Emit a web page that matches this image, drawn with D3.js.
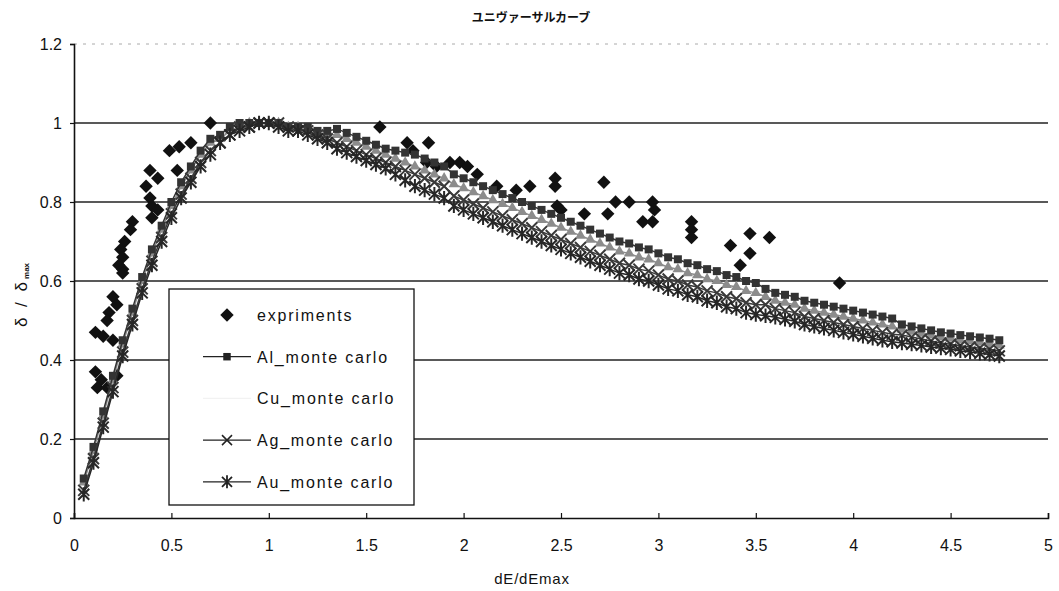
<!DOCTYPE html>
<html>
<head>
<meta charset="utf-8">
<script src="https://cdn.jsdelivr.net/npm/d3@7"></script>
<style>
  body { margin: 0; background: #fff; }
  text { font-family: "Liberation Sans", Arial, sans-serif; fill: #111; }
</style>
</head>
<body>
<div id="chart-area"></div>
<script>
// tick labels
const xTicks = [0, 0.5, 1, 1.5, 2, 2.5, 3, 3.5, 4, 4.5, 5];
const xTickLabels = ["0", "0.5", "1", "1.5", "2", "2.5", "3", "3.5", "4", "4.5", "5"];
const yTicks = [0, 0.2, 0.4, 0.6, 0.8, 1, 1.2];
const yTickLabels = ["0", "0.2", "0.4", "0.6", "0.8", "1", "1.2"];

const expX = [0.70, 0.60, 0.54, 0.49, 0.53, 0.39, 0.43, 0.37, 0.39, 0.40, 0.40, 0.43, 0.30, 0.29, 0.26, 0.24, 0.25, 0.23, 0.25, 0.25,
  0.20, 0.22, 0.18, 0.17, 0.11, 0.15, 0.20, 0.11, 0.14, 0.12, 0.17, 0.22,
  1.57, 1.71, 1.82, 1.74, 1.81, 1.86, 1.93, 1.98, 2.02, 2.07, 2.17, 2.27, 2.34, 2.47, 2.47, 2.48, 2.50,
  2.72, 2.78, 2.74, 2.62, 2.85, 2.97, 2.98, 2.92, 2.97, 3.17, 3.17, 3.17, 3.37, 3.47, 3.57, 3.47, 3.42, 3.93];
const expY = [1.00, 0.95, 0.94, 0.93, 0.88, 0.88, 0.86, 0.84, 0.81, 0.79, 0.76, 0.78, 0.75, 0.73, 0.70, 0.68, 0.66, 0.64, 0.63, 0.62,
  0.56, 0.54, 0.52, 0.50, 0.47, 0.46, 0.45, 0.37, 0.35, 0.33, 0.33, 0.36,
  0.99, 0.95, 0.95, 0.93, 0.90, 0.89, 0.90, 0.90, 0.89, 0.87, 0.84, 0.83, 0.84, 0.86, 0.84, 0.79, 0.78,
  0.85, 0.80, 0.77, 0.77, 0.80, 0.80, 0.78, 0.75, 0.75, 0.75, 0.73, 0.71, 0.69, 0.72, 0.71, 0.67, 0.64, 0.595];

// monte carlo runs, dE/dEmax
const mcX = [0.05, 0.10, 0.15, 0.20, 0.25, 0.30, 0.35, 0.40, 0.45, 0.50, 0.55, 0.60, 0.65, 0.70,
  0.75, 0.80, 0.85, 0.90, 0.95, 1.00, 1.05, 1.10, 1.15, 1.20, 1.25, 1.30,
  1.35, 1.40, 1.45, 1.50, 1.55, 1.60,
  1.65, 1.70, 1.75, 1.80, 1.85, 1.90, 1.95, 2.00, 2.05, 2.10, 2.15, 2.20, 2.25, 2.30, 2.35, 2.40, 2.45, 2.50, 2.55, 2.60,
  2.65, 2.70, 2.75, 2.80, 2.85, 2.90, 2.95, 3.00, 3.05, 3.10, 3.15, 3.20, 3.25, 3.30, 3.35, 3.40, 3.45, 3.50,
  3.55, 3.60, 3.65, 3.70, 3.75, 3.80, 3.85, 3.90, 3.95, 4.00, 4.05, 4.10, 4.15, 4.20,
  4.25, 4.30, 4.35, 4.40, 4.45, 4.50, 4.55, 4.60, 4.65, 4.70, 4.75];
const alY = [0.10, 0.18, 0.27, 0.36, 0.45, 0.53, 0.61, 0.68, 0.74, 0.80, 0.85, 0.89, 0.93, 0.96,
  0.97, 0.99, 1.00, 1.00, 1.00, 1.00, 1.00, 0.99, 0.99, 0.99, 0.98, 0.98,
  0.985, 0.975, 0.965, 0.955, 0.945, 0.935,
  0.93, 0.925, 0.92, 0.91, 0.90, 0.89, 0.87, 0.86, 0.85, 0.84, 0.83, 0.82, 0.81, 0.80, 0.79, 0.78, 0.77, 0.76, 0.75, 0.74,
  0.73, 0.72, 0.71, 0.70, 0.695, 0.685, 0.68, 0.67, 0.66, 0.655, 0.645, 0.64, 0.63, 0.625, 0.615, 0.61, 0.60, 0.595,
  0.58, 0.57, 0.565, 0.56, 0.55, 0.545, 0.54, 0.535, 0.53, 0.525, 0.52, 0.515, 0.51, 0.505,
  0.49, 0.485, 0.48, 0.475, 0.47, 0.467, 0.463, 0.46, 0.457, 0.454, 0.45];
const cuY = [0.09, 0.17, 0.26, 0.35, 0.44, 0.52, 0.60, 0.67, 0.73, 0.79, 0.84, 0.88, 0.92, 0.95,
  0.96, 0.98, 0.99, 1.00, 1.00, 1.00, 1.00, 0.99, 0.99, 0.98, 0.97, 0.97,
  0.97, 0.96, 0.95, 0.94, 0.93, 0.92,
  0.91, 0.90, 0.89, 0.88, 0.87, 0.86, 0.845, 0.835, 0.825, 0.815, 0.805, 0.795, 0.785, 0.775, 0.765, 0.755, 0.745, 0.735, 0.725, 0.715,
  0.705, 0.695, 0.685, 0.675, 0.67, 0.66, 0.655, 0.645, 0.635, 0.63, 0.62, 0.615, 0.605, 0.60, 0.59, 0.585, 0.575, 0.57,
  0.56, 0.55, 0.545, 0.54, 0.53, 0.525, 0.52, 0.515, 0.51, 0.505, 0.50, 0.495, 0.49, 0.485,
  0.477, 0.472, 0.467, 0.462, 0.457, 0.454, 0.45, 0.447, 0.444, 0.441, 0.437];
const agY = [0.07, 0.15, 0.24, 0.33, 0.42, 0.50, 0.58, 0.65, 0.71, 0.77, 0.82, 0.86, 0.90, 0.93,
  0.95, 0.97, 0.99, 0.99, 1.00, 1.00, 1.00, 0.99, 0.98, 0.98, 0.97, 0.96,
  0.95, 0.94, 0.93, 0.92, 0.91, 0.90,
  0.89, 0.88, 0.87, 0.86, 0.85, 0.84, 0.815, 0.805, 0.795, 0.785, 0.775, 0.765, 0.755, 0.745, 0.735, 0.725, 0.715, 0.705, 0.695, 0.685,
  0.675, 0.665, 0.655, 0.645, 0.64, 0.63, 0.625, 0.615, 0.605, 0.60, 0.59, 0.585, 0.575, 0.57, 0.56, 0.555, 0.545, 0.54,
  0.54, 0.53, 0.525, 0.52, 0.51, 0.505, 0.50, 0.495, 0.49, 0.485, 0.48, 0.475, 0.47, 0.465,
  0.463, 0.458, 0.453, 0.448, 0.443, 0.44, 0.436, 0.433, 0.43, 0.427, 0.423];
const auY = [0.06, 0.14, 0.23, 0.32, 0.41, 0.49, 0.57, 0.64, 0.70, 0.76, 0.81, 0.85, 0.89, 0.92,
  0.95, 0.97, 0.98, 0.99, 1.00, 1.00, 0.99, 0.98, 0.98, 0.97, 0.96, 0.95,
  0.935, 0.925, 0.915, 0.905, 0.895, 0.885,
  0.87, 0.855, 0.84, 0.83, 0.82, 0.81, 0.79, 0.78, 0.77, 0.76, 0.75, 0.74, 0.73, 0.72, 0.71, 0.70, 0.69, 0.68, 0.67, 0.66,
  0.65, 0.64, 0.63, 0.62, 0.615, 0.605, 0.60, 0.59, 0.58, 0.575, 0.565, 0.56, 0.55, 0.545, 0.535, 0.53, 0.52, 0.515,
  0.512, 0.508, 0.503, 0.498, 0.49, 0.485, 0.48, 0.475, 0.47, 0.465, 0.46, 0.455, 0.45, 0.446,
  0.443, 0.44, 0.437, 0.433, 0.43, 0.427, 0.423, 0.42, 0.417, 0.414, 0.41];

const width = 1059, height = 591;

const svg = d3.select("#chart-area").append("svg")
  .attr("width", width)
  .attr("height", height)
  .style("background", "#fff");

const x = d3.scaleLinear().domain([0, 5]).range([74, 1048]);
const y = d3.scaleLinear().domain([0, 1.2]).range([518, 44]);

// title
svg.append("text")
  .attr("x", 531).attr("y", 22)
  .attr("text-anchor", "middle")
  .style("font-family", "'Noto Sans CJK JP', sans-serif")
  .style("font-size", "12px")
  .style("font-weight", "bold")
  .text("ユニヴァーサルカーブ");

// gridlines
svg.append("g").selectAll("line")
  .data(yTicks.filter(d => d > 0))
  .enter().append("line")
  .attr("x1", x(0)).attr("x2", x(5))
  .attr("y1", d => y(d)).attr("y2", d => y(d))
  .attr("stroke", d => d === 1.2 ? "#aaa" : "#222")
  .attr("stroke-width", d => d === 1.2 ? 1 : 1.3)
  .attr("stroke-dasharray", d => d === 1.2 ? "3,6" : null);

// axes
const xAxis = d3.axisBottom(x)
  .tickValues(xTicks)
  .tickFormat((d, i) => xTickLabels[i])
  .tickSize(-5)
  .tickPadding(22);
const yAxis = d3.axisLeft(y)
  .tickValues(yTicks)
  .tickFormat((d, i) => yTickLabels[i])
  .tickSize(4)
  .tickPadding(8);

const gx = svg.append("g").attr("transform", `translate(0,${y(0)})`).call(xAxis);
const gy = svg.append("g").attr("transform", `translate(${x(0)},0)`).call(yAxis);
[gx, gy].forEach(g => {
  g.select(".domain").attr("stroke", "#111").attr("stroke-width", 1.6);
  g.selectAll(".tick line").attr("stroke", "#111").attr("stroke-width", 1.2);
  g.selectAll(".tick text")
    .style("font-family", "'Liberation Sans', Arial, sans-serif")
    .style("font-size", "16px")
    .attr("fill", "#111");
});

// axis titles
svg.append("text")
  .attr("x", 532).attr("y", 584)
  .attr("text-anchor", "middle")
  .style("font-size", "15px")
  .style("letter-spacing", "0.8px")
  .text("dE/dEmax");

const ylab = svg.append("text")
  .attr("transform", "translate(27,295) rotate(-90)")
  .attr("text-anchor", "middle");
ylab.append("tspan").style("font-size", "17px").style("letter-spacing", "3px").text("δ / δ");
ylab.append("tspan").attr("dy", 2).style("font-size", "8px").style("font-weight", "bold").text("max");

// marker shapes
const square = d3.symbol().type(d3.symbolSquare).size(64);
const diamond = d3.symbol().type(d3.symbolSquare).size(90);
const triangle = d3.symbol().type(d3.symbolTriangle).size(50);
const cross = r => `M${-r},${-r}L${r},${r}M${-r},${r}L${r},${-r}`;
const star = r => cross(r) + `M0,${-r * 1.3}L0,${r * 1.3}`;

const line = d3.line().x(d => x(d[0])).y(d => y(d[1]));

// experiments
const expData = expX.map((v, i) => [v, expY[i]]);
svg.append("g").selectAll("path")
  .data(expData)
  .enter().append("path")
  .attr("d", diamond())
  .attr("transform", d => `translate(${x(d[0])},${y(d[1])}) rotate(45)`)
  .attr("fill", "#111");

// Cu drawn first so it sits under the others (pale in the scan)
const series = [
  { name: "Cu", ys: cuY, color: "#8c8c8c", mark: "triangle" },
  { name: "Al", ys: alY, color: "#333", mark: "square" },
  { name: "Ag", ys: agY, color: "#3a3a3a", mark: "cross" },
  { name: "Au", ys: auY, color: "#262626", mark: "star" }
];

series.forEach(s => {
  const pts = mcX.map((v, i) => [v, s.ys[i]]);
  const g = svg.append("g");
  g.append("path")
    .attr("d", line(pts))
    .attr("fill", "none")
    .attr("stroke", s.color)
    .attr("stroke-width", 1.5);
  const m = g.selectAll(".m").data(pts).enter().append("path")
    .attr("transform", d => `translate(${x(d[0])},${y(d[1])})`);
  if (s.mark === "square") m.attr("d", square()).attr("fill", s.color);
  else if (s.mark === "triangle") m.attr("d", triangle()).attr("fill", s.color);
  else if (s.mark === "cross") m.attr("d", cross(5.5)).attr("fill", "none").attr("stroke", s.color).attr("stroke-width", 2);
  else m.attr("d", star(5.5)).attr("fill", "none").attr("stroke", s.color).attr("stroke-width", 2);
});

// legend
const lg = svg.append("g");
lg.append("rect")
  .attr("x", 169).attr("y", 289).attr("width", 245).attr("height", 216)
  .attr("fill", "#fff").attr("stroke", "#111").attr("stroke-width", 1.3);

const legendNames = ["expriments", "Al_monte carlo", "Cu_monte carlo", "Ag_monte carlo", "Au_monte carlo"];
const legendMarks = ["diamond", "square", "none", "cross", "star"];
legendNames.forEach((name, i) => {
  const cy = 315 + i * 41.7;
  const mk = legendMarks[i];
  if (mk !== "diamond") {
    lg.append("line").attr("x1", 203).attr("x2", 251).attr("y1", cy).attr("y2", cy)
      .attr("stroke", mk === "none" ? "#f2f2f2" : "#222").attr("stroke-width", 1.2);
  }
  const p = lg.append("path").attr("transform", `translate(227,${cy})` + (mk === "diamond" ? " rotate(45)" : ""));
  if (mk === "diamond") p.attr("d", diamond()).attr("fill", "#111");
  else if (mk === "square") p.attr("d", d3.symbol().type(d3.symbolSquare).size(56)()).attr("fill", "#222");
  else if (mk === "cross") p.attr("d", cross(5)).attr("fill", "none").attr("stroke", "#222").attr("stroke-width", 1.5);
  else if (mk === "star") p.attr("d", star(5)).attr("fill", "none").attr("stroke", "#222").attr("stroke-width", 1.8);
  lg.append("text")
    .attr("x", 257).attr("y", cy + 6)
    .style("font-size", "16px")
    .style("letter-spacing", "1.8px")
    .text(name);
});
</script>
</body>
</html>
